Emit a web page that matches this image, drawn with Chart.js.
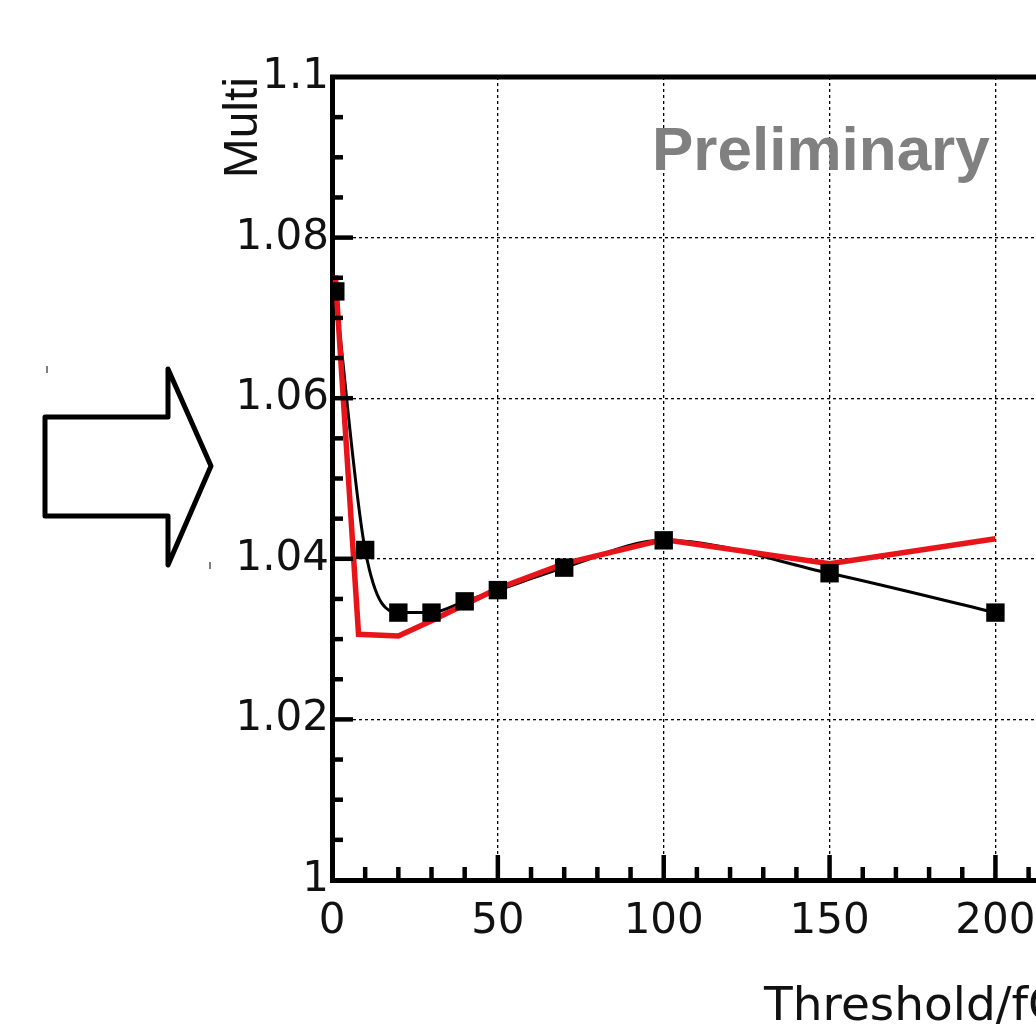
<!DOCTYPE html>
<html>
<head>
<meta charset="utf-8">
<script src="https://cdn.jsdelivr.net/npm/chart.js@4.4.1/dist/chart.umd.min.js"></script>
<style>
  html, body { margin: 0; padding: 0; background: #fff; overflow: hidden; }
  #wrap { position: relative; width: 1036px; height: 1034px; overflow: hidden; }
  #c { position: absolute; left: 0; top: 0; }
</style>
</head>
<body>
<div id="wrap"><canvas id="c" width="1600" height="1034"></canvas></div>
<script>
// 검은 점 + 부드러운 곡선
const blackX = [1, 10, 20, 30, 40, 50, 70, 100, 150, 200];
const blackY = [1.0733, 1.0411, 1.0333, 1.0333, 1.0347, 1.0361, 1.0389, 1.0423, 1.0382, 1.0333];
// 빨간 꺾은선
const redX = [1, 8, 20, 30, 40, 50, 70, 100, 150, 200];
const redY = [1.0753, 1.0306, 1.0304, 1.0323, 1.0343, 1.0363, 1.0394, 1.0424, 1.0394, 1.0425];

const xTicks = [0, 50, 100, 150, 200, 250, 300, 350];
const xTickLabels = ['0', '50', '100', '150', '200', '250', '300', '350'];
const yTicks = [1, 1.02, 1.04, 1.06, 1.08, 1.1];
const yTickLabels = ['1', '1.02', '1.04', '1.06', '1.08', '1.1'];

const xTitle = 'Threshold/fC';
const yTitle = 'Multi';
const stamp = 'Preliminary';

const toPts = (xs, ys) => xs.map((x, i) => ({ x, y: ys[i] }));

const decor = {
  id: 'decor',
  afterDatasetsDraw(chart) {
    const { ctx, chartArea: a, scales: { x, y } } = chart;
    ctx.save();
    ctx.strokeStyle = '#000';
    ctx.lineCap = 'butt';
    ctx.lineWidth = 5;
    // 위/오른쪽 테두리
    ctx.beginPath();
    ctx.moveTo(a.left - 2, a.top);
    ctx.lineTo(a.right, a.top);
    ctx.lineTo(a.right, a.bottom);
    ctx.stroke();
    // 안쪽 눈금
    ctx.lineWidth = 4.5;
    for (let i = 1; i <= 35; i++) {
      const px = x.getPixelForValue(i * 10);
      const len = i % 5 === 0 ? 25 : 13;
      ctx.beginPath();
      ctx.moveTo(px, a.bottom);
      ctx.lineTo(px, a.bottom - len);
      ctx.stroke();
    }
    for (let i = 1; i < 20; i++) {
      const py = y.getPixelForValue(1 + i * 0.005);
      const len = i % 4 === 0 ? 21 : 11;
      ctx.beginPath();
      ctx.moveTo(a.left, py);
      ctx.lineTo(a.left + len, py);
      ctx.stroke();
    }
    // Preliminary
    ctx.fillStyle = '#808080';
    ctx.font = 'bold 62px "Liberation Sans", Arial, sans-serif';
    ctx.textBaseline = 'alphabetic';
    ctx.fillText(stamp, 652, 170);
    ctx.restore();
  },
  afterDraw(chart) {
    const { ctx } = chart;
    ctx.save();
    // 왼쪽 화살표
    ctx.strokeStyle = '#000';
    ctx.lineWidth = 5;
    ctx.lineJoin = 'round';
    ctx.beginPath();
    ctx.moveTo(45, 417);
    ctx.lineTo(168, 417);
    ctx.lineTo(168, 369);
    ctx.lineTo(211, 466);
    ctx.lineTo(168, 565);
    ctx.lineTo(168, 516);
    ctx.lineTo(45, 516);
    ctx.closePath();
    ctx.stroke();
    ctx.strokeStyle = '#555';
    ctx.lineWidth = 1.5;
    ctx.beginPath();
    ctx.moveTo(47, 366); ctx.lineTo(47, 373);
    ctx.moveTo(210, 562); ctx.lineTo(210, 569);
    ctx.stroke();
    ctx.restore();
  },
};

new Chart(document.getElementById('c'), {
  type: 'line',
  data: {
    datasets: [
      {
        data: toPts(blackX, blackY),
        borderColor: '#000',
        borderWidth: 3,
        pointRadius: 0,
        cubicInterpolationMode: 'monotone',
        fill: false,
        order: 3,
      },
      {
        data: toPts(redX, redY),
        borderColor: '#e8141a',
        borderWidth: 5.5,
        pointRadius: 0,
        tension: 0,
        fill: false,
        order: 2,
      },
      {
        data: toPts(blackX, blackY),
        showLine: false,
        pointStyle: 'rect',
        pointRadius: 13,
        pointBackgroundColor: '#000',
        pointBorderWidth: 0,
        order: 1,
      },
    ],
  },
  options: {
    responsive: false,
    animation: false,
    layout: { padding: { left: 215, top: 77, right: 107, bottom: 0 } },
    plugins: { legend: { display: false }, tooltip: { enabled: false } },
    scales: {
      x: {
        type: 'linear',
        min: 0,
        max: 350,
        afterBuildTicks: (s) => { s.ticks = xTicks.map((v) => ({ value: v })); },
        afterFit: (s) => { s.height = 154; },
        ticks: {
          callback: (v, i) => xTickLabels[i],
          font: { family: 'DejaVu Sans', size: 42 },
          color: '#111',
          padding: 17,
          maxRotation: 0,
        },
        grid: { color: '#000', lineWidth: 1.3, drawTicks: false },
        border: { color: '#000', width: 5, dash: [3, 3] },
        title: {
          display: true,
          text: xTitle,
          font: { family: 'DejaVu Sans', size: 47 },
          color: '#111',
          padding: { top: 0, bottom: -2 },
        },
      },
      y: {
        type: 'linear',
        min: 1,
        max: 1.1,
        afterBuildTicks: (s) => { s.ticks = yTicks.map((v) => ({ value: v })); },
        afterFit: (s) => { s.width = 117; },
        ticks: {
          callback: (v, i) => yTickLabels[i],
          font: { family: 'DejaVu Sans', size: 42 },
          color: '#111',
          padding: 3,
        },
        grid: { color: '#000', lineWidth: 1.3, drawTicks: false },
        border: { color: '#000', width: 5, dash: [3, 3] },
        title: {
          display: true,
          text: yTitle,
          align: 'end',
          font: { family: 'Liberation Sans', size: 48 },
          color: '#111',
          padding: 0,
        },
      },
    },
  },
  plugins: [decor],
});
</script>
</body>
</html>
